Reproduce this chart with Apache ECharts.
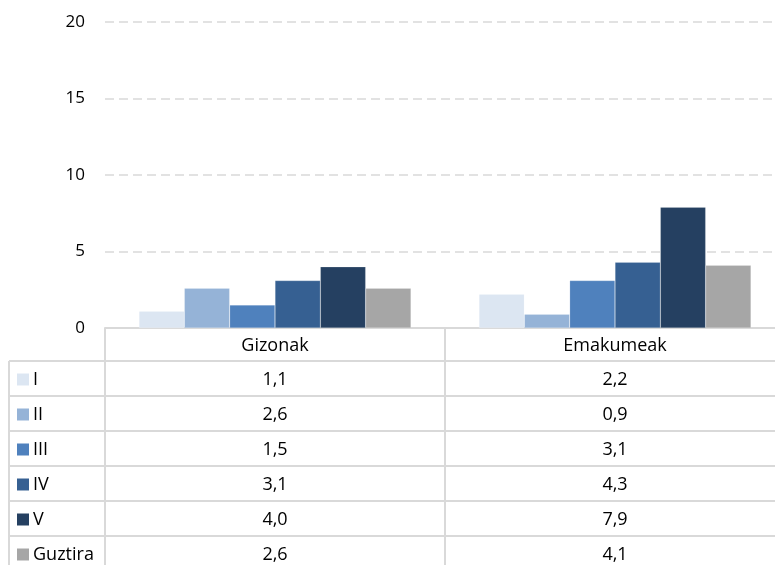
<!DOCTYPE html>
<html>
<head>
<meta charset="utf-8">
<script src="https://cdn.jsdelivr.net/npm/echarts@6/dist/echarts.min.js"></script>
<style>
  html, body { margin: 0; padding: 0; background: #fff; }
  #chart { width: 775px; height: 565px; }
</style>
</head>
<body>
<div id="chart"></div>
<script>
// categories and series
const categories = ['Gizonak', 'Emakumeak']
const seriesNames = ['I', 'II', 'III', 'IV', 'V', 'Guztira']
const valI = [1.1, 2.2]
const valII = [2.6, 0.9]
const valIII = [1.5, 3.1]
const valIV = [3.1, 4.3]
const valV = [4.0, 7.9]
const valGuztira = [2.6, 4.1]
const yTicks = [0, 5, 10, 15, 20]

const seriesData = [valI, valII, valIII, valIV, valV, valGuztira]
const colors = ['#dce6f2', '#95b3d7', '#4f81bd', '#366092', '#254061', '#a6a6a6']
const font = 'Open Sans, Noto Sans, sans-serif'

const chart = echarts.init(document.getElementById('chart'))

const option = {
  animation: false,
  color: colors,
  // plot runs a little past the right edge of the picture
  grid: { left: 105, width: 680, top: 22, height: 306, outerBoundsMode: 'none', containLabel: false },
  xAxis: {
    type: 'category',
    data: categories,
    axisLine: { lineStyle: { color: '#d9d9d9', width: 2 } },
    axisTick: { show: false },
    axisLabel: { show: false }
  },
  yAxis: {
    type: 'value',
    min: yTicks[0],
    max: yTicks[yTicks.length - 1],
    interval: 5,
    axisLine: { show: false },
    axisTick: { show: false },
    axisLabel: { color: '#000', fontSize: 17, fontFamily: font, margin: 20 },
    splitLine: { lineStyle: { color: '#d9d9d9', type: [9, 5], width: 1.5 } }
  },
  series: seriesNames.map((name, i) => ({
    name: name,
    type: 'bar',
    data: seriesData[i],
    barGap: 0,
    barCategoryGap: '20%',
    itemStyle: { borderColor: 'rgba(255,255,255,0.35)', borderWidth: 0.5 }
  }))
}
chart.setOption(option)

// data table below the plot, positioned with the chart's own scale
function fmt (v) { return v.toFixed(1).replace('.', ',') }
const tableTop = chart.convertToPixel({ yAxisIndex: 0 }, 0)
const cx = categories.map((c, i) => chart.convertToPixel({ xAxisIndex: 0 }, i))
const tableLeft = 105
const mid = (cx[0] + cx[1]) / 2
const headH = 33
const rowH = 35
const lineCol = '#d9d9d9'
const tableFont = '18px ' + font
const els = []
const line = (x1, y1, x2, y2) => els.push({
  type: 'line', shape: { x1, y1, x2, y2 }, style: { stroke: lineCol, lineWidth: 2 }
})
const tableBottom = 600
line(tableLeft, tableTop, tableLeft, tableBottom)
line(mid, tableTop, mid, tableBottom)
line(9, tableTop + headH, 9, tableBottom)
for (let r = 0; r <= seriesNames.length; r++) {
  const y = tableTop + headH + r * rowH
  line(9, y, 800, y)
}
categories.forEach((c, i) => {
  els.push({
    type: 'text', x: cx[i], y: tableTop + headH / 2 + 1,
    style: { text: c, fill: '#000', font: tableFont, align: 'center', verticalAlign: 'middle' }
  })
})
seriesNames.forEach((name, r) => {
  const yc = tableTop + headH + r * rowH + rowH / 2 + 1
  els.push({ type: 'rect', shape: { x: 17, y: yc - 6, width: 12, height: 12 }, style: { fill: colors[r] } })
  els.push({
    type: 'text', x: 33, y: yc,
    style: { text: name, fill: '#000', font: tableFont, align: 'left', verticalAlign: 'middle' }
  })
  seriesData[r].forEach((v, i) => {
    els.push({
      type: 'text', x: cx[i], y: yc,
      style: { text: fmt(v), fill: '#000', font: tableFont, align: 'center', verticalAlign: 'middle' }
    })
  })
})
chart.setOption({ graphic: { elements: els } })
</script>
</body>
</html>
